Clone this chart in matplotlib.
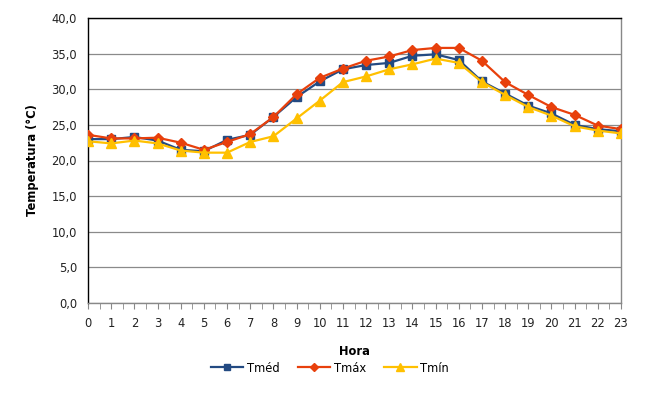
import matplotlib
matplotlib.use("Agg")
import matplotlib.pyplot as plt
from matplotlib.ticker import MultipleLocator, FuncFormatter

hours = list(range(24))
t_med = [23.0, 23.0, 23.3, 22.8, 21.5, 21.3, 22.9, 23.6, 26.1, 28.9, 31.1, 32.8,
         33.4, 33.7, 34.7, 34.9, 34.1, 31.1, 29.4, 27.7, 26.6, 25.0, 24.4, 24.1]
t_max = [23.6, 23.1, 23.1, 23.2, 22.5, 21.5, 22.6, 23.7, 26.1, 29.3, 31.6, 32.9,
         34.0, 34.6, 35.5, 35.8, 35.8, 34.0, 31.0, 29.2, 27.5, 26.4, 24.9, 24.4]
t_min = [22.7, 22.4, 22.8, 22.4, 21.4, 21.1, 21.1, 22.6, 23.4, 25.9, 28.4, 31.0,
         31.8, 32.8, 33.5, 34.3, 33.7, 31.0, 29.2, 27.5, 26.3, 24.8, 24.2, 23.8]
labels = ["Tméd", "Tmáx", "Tmín"]

plt.rcParams['font.family'] = ['DejaVu Sans']
fig = plt.figure(figsize=(6.61, 4.04), dpi=100)
ax = fig.add_axes([88/661, 1-303/404, (621-88)/661, (303-18)/404])

c_med = "#234A82"
c_max = "#E8400C"
c_min = "#FFC000"

ax.plot(hours, t_med, color=c_med, lw=1.6, marker="s", ms=5.5, label=labels[0], zorder=3)
ax.plot(hours, t_max, color=c_max, lw=1.6, marker="D", ms=5.5, label=labels[1], zorder=4)
ax.plot(hours, t_min, color=c_min, lw=1.6, marker="^", ms=7, label=labels[2], zorder=5)

ax.set_xlim(0, 23)
ax.set_ylim(0, 40)
ax.set_xticks(hours)
ax.xaxis.set_minor_locator(MultipleLocator(0.5))
ax.yaxis.set_major_locator(MultipleLocator(5))
ax.yaxis.set_major_formatter(FuncFormatter(lambda v, p: f"{v:.1f}".replace(".", ",")))
ax.grid(axis="y", color="#8a8a8a", lw=0.9)
ax.set_axisbelow(True)

ax.tick_params(axis="y", length=0, labelsize=8.3, colors="#222222", pad=8)
ax.tick_params(axis="x", which="both", length=4, color="#888888", labelsize=8.3,
               labelcolor="#222222", pad=6)
for s in ["left", "top"]:
    ax.spines[s].set_color("black")
    ax.spines[s].set_linewidth(1.0)
for s in ["right", "bottom"]:
    ax.spines[s].set_color("#888888")
    ax.spines[s].set_linewidth(1.0)

ax.set_xlabel("Hora", fontsize=8.3, fontweight="bold", labelpad=11)
ax.set_ylabel("Temperatura (°C)", fontsize=8.3, fontweight="bold", labelpad=9)

fig.legend(loc="center", bbox_to_anchor=(330/661, 1-368/404), ncol=3, frameon=False,
           fontsize=8.3, handlelength=2.8, columnspacing=1.6, handletextpad=0.3,
           markerscale=0.8)

fig.savefig("out.png", dpi=100)
